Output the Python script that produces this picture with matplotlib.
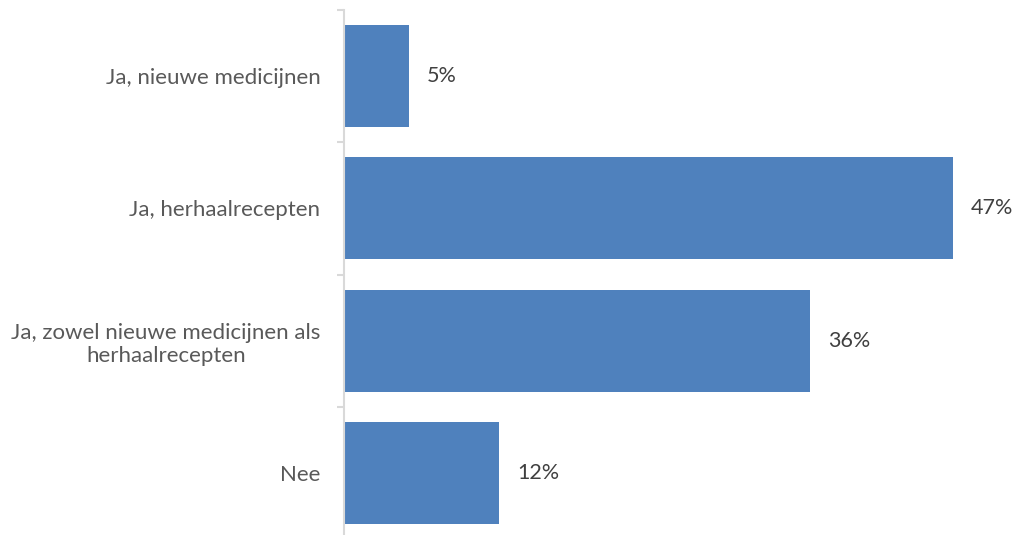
import matplotlib
matplotlib.use("Agg")
import matplotlib.pyplot as plt
import numpy as np

categories = [
    "Ja, nieuwe medicijnen",
    "Ja, herhaalrecepten",
    "Ja, zowel nieuwe medicijnen als\nherhaalrecepten",
    "Nee",
]
percentages = [5, 47, 36, 12]
value_labels = ["5%", "47%", "36%", "12%"]

BAR_COLOR = "#4F81BD"
AXIS_COLOR = "#D9D9D9"
LABEL_COLOR = "#595959"

plt.rcParams["font.family"] = ["Lato", "DejaVu Sans"]

fig = plt.figure(figsize=(10.16, 5.35), dpi=100)
ax = fig.add_axes([344 / 1016, -4 / 535, 1 - 344 / 1016, 529 / 535])

y = np.arange(len(categories))
ax.barh(y, percentages, height=0.77, color=BAR_COLOR)

ax.set_ylim(len(categories) - 0.5, -0.5)
ax.set_xlim(0, 51.86)

for yi, val, lab in zip(y, percentages, value_labels):
    ax.annotate(lab, (val, yi), xytext=(13, 0), textcoords="offset points",
                ha="left", va="center", fontsize=15.5, color="#404040")

ax.set_yticks(y)
ax.set_yticklabels(categories, fontsize=16, color=LABEL_COLOR, linespacing=1.2)
for t in ax.get_yticklabels():
    t.set_multialignment("center")
ax.tick_params(axis="y", which="major", length=0, pad=17)
ax.set_yticks(np.arange(-0.5, len(categories) + 0.5, 1), minor=True)
ax.tick_params(axis="y", which="minor", length=5, width=1.5, color=AXIS_COLOR)
ax.set_xticks([])

for side in ["top", "right", "bottom"]:
    ax.spines[side].set_visible(False)
ax.spines["left"].set_color(AXIS_COLOR)
ax.spines["left"].set_linewidth(1.5)

fig.savefig("out.png", dpi=100)
